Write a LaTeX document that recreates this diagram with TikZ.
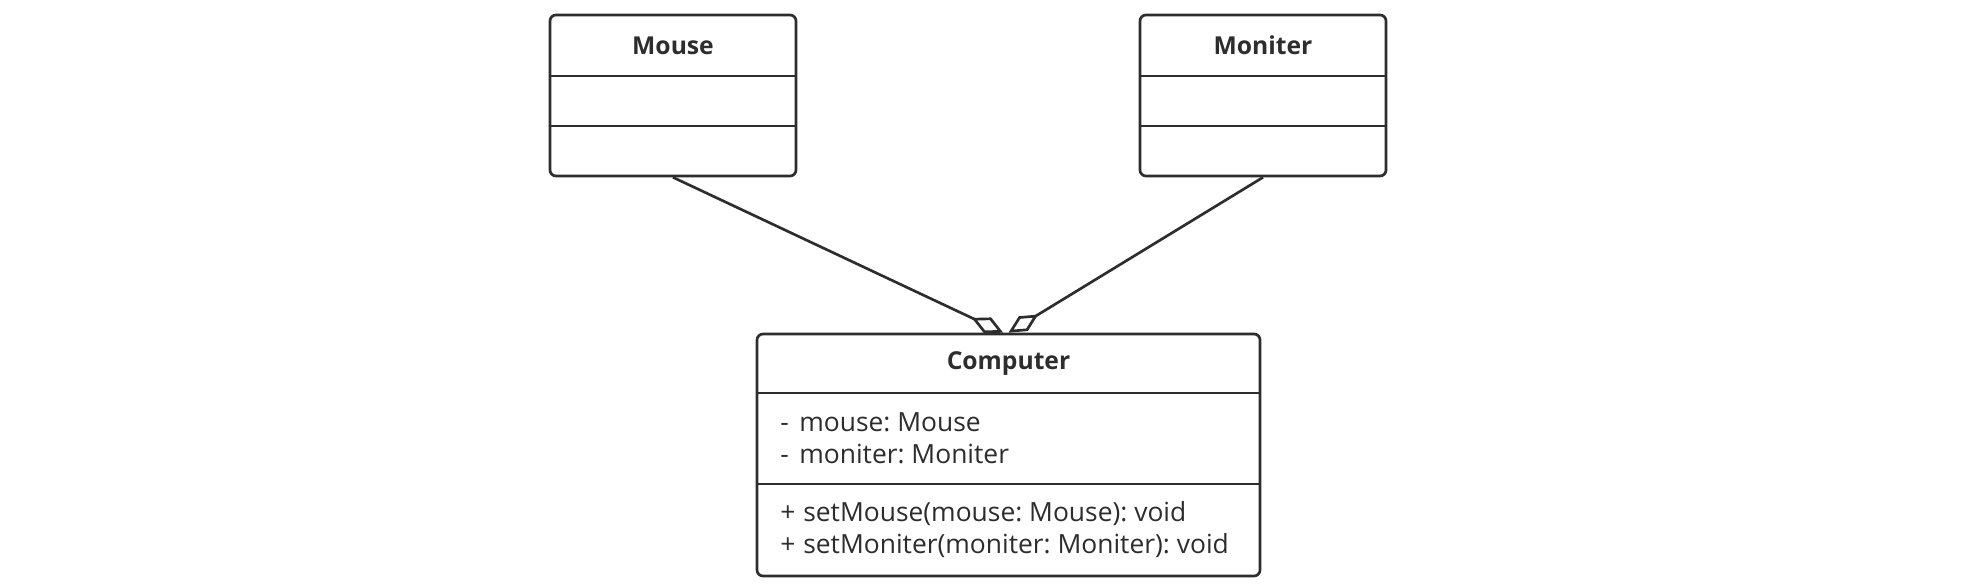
\documentclass[tikz,border=0pt]{standalone}
\usepackage{fontspec}
\setmainfont{Open Sans}
\frenchspacing
\usetikzlibrary{arrows.meta, positioning}
\definecolor{umlgray}{RGB}{45,45,45}

\begin{document}
\begin{tikzpicture}[
    x=0.75pt, y=-0.75pt,
    every node/.style={font=\fontsize{19.8}{24}\selectfont, text=umlgray},
    classbox/.style={rectangle, rounded corners=4.5pt, draw=umlgray,
                     line width=2pt, inner sep=0pt},
    divider/.style={draw=umlgray, line width=2pt},
    classname/.style={font=\fontsize{18.5}{24}\selectfont\bfseries},
    members/.style={align=left, anchor=west, inner sep=0pt},
    aggregation/.style={{Diamond[open, length=26pt, width=13pt]}-,
                        draw=umlgray, line width=2pt}
]
\useasboundingbox (0,0) rectangle (1966,588);

\node (mouse) [classbox, minimum width=184.5pt, minimum height=120.75pt] at (673,95.5) {};
\node (moniter) [classbox, minimum width=184.5pt, minimum height=120.75pt] at (1263,95.5) {};
\node (computer) [classbox, minimum width=377.25pt, minimum height=181.5pt] at (1008.5,455) {};

% compartments
\draw [divider] (mouse.west |- 0,76) -- (mouse.east |- 0,76);
\draw [divider] (mouse.west |- 0,126) -- (mouse.east |- 0,126);
\draw [divider] (moniter.west |- 0,76) -- (moniter.east |- 0,76);
\draw [divider] (moniter.west |- 0,126) -- (moniter.east |- 0,126);
\draw [divider] (computer.west |- 0,393) -- (computer.east |- 0,393);
\draw [divider] (computer.west |- 0,484) -- (computer.east |- 0,484);

\node (mousename) [classname] at (mouse.north |- 0,45.5) {Mouse};
\node (monitername) [classname] at (moniter.north |- 0,45.5) {Moniter};
\node (computername) [classname] at (computer.north |- 0,363.5) {Computer};

\node (computerattr) [members] at (780,438.5)
    {-\hspace{0.4em}mouse: Mouse\\-\hspace{0.4em}moniter: Moniter};
\node (computerops) [members] at (780,530)
    {+\hspace{0.3em}setMouse(mouse: Mouse): void\\+\hspace{0.3em}setMoniter(moniter: Moniter): void};

\draw [aggregation] ([xshift=-4pt]computer.north) -- (mouse.south);
\draw [aggregation] (computer.north) -- (moniter.south);

\end{tikzpicture}
\end{document}
